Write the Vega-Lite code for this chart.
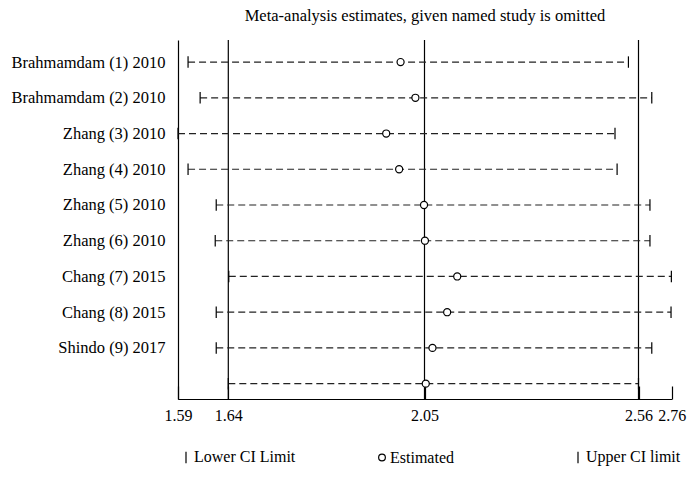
{
  "$schema": "https://vega.github.io/schema/vega-lite/v6.json",
  "autosize": {"type": "none"},
  "width": 494,
  "height": 359,
  "padding": {"left": 178, "top": 40, "right": 26, "bottom": 79},
  "background": "white",
  "title": {
    "text": "Meta-analysis estimates, given named study is omitted",
    "font": "Liberation Serif",
    "fontSize": 16.5,
    "fontWeight": "normal",
    "color": "black",
    "anchor": "middle",
    "frame": "group",
    "offset": 15
  },
  "config": {
    "view": {"stroke": null},
    "font": "Liberation Serif",
    "axisX": {
      "domainColor": "black", "domainWidth": 1.2,
      "tickColor": "black", "tickWidth": 1.2, "tickSize": -13,
      "labelFont": "Liberation Serif", "labelFontSize": 16, "labelColor": "black",
      "labelPadding": 21, "grid": false, "labelOverlap": false, "labelFlush": false
    },
    "axisY": {
      "domainColor": "black", "domainWidth": 1.2, "ticks": false,
      "labelFont": "Liberation Serif", "labelFontSize": 16.5, "labelColor": "black",
      "labelPadding": 13, "grid": false
    }
  },
  "datasets": {
    "studies": [
      {"study": "Brahmamdam (1) 2010", "lower": 1.600, "est": 2.000, "upper": 2.536},
      {"study": "Brahmamdam (2) 2010", "lower": 1.612, "est": 2.031, "upper": 2.640},
      {"study": "Zhang (3) 2010", "lower": 1.590, "est": 1.970, "upper": 2.504},
      {"study": "Zhang (4) 2010", "lower": 1.600, "est": 1.997, "upper": 2.509},
      {"study": "Zhang (5) 2010", "lower": 1.628, "est": 2.049, "upper": 2.629},
      {"study": "Zhang (6) 2010", "lower": 1.627, "est": 2.051, "upper": 2.629},
      {"study": "Chang (7) 2015", "lower": 1.641, "est": 2.128, "upper": 2.758},
      {"study": "Chang (8) 2015", "lower": 1.628, "est": 2.104, "upper": 2.756},
      {"study": "Shindo (9) 2017", "lower": 1.628, "est": 2.069, "upper": 2.640},
      {"study": "Overall", "lower": 1.640, "est": 2.053, "upper": 2.560}
    ],
    "refs": [{"v": 1.64}, {"v": 2.05}, {"v": 2.56}]
  },
  "layer": [
    {
      "data": {"name": "refs"},
      "mark": {"type": "rule", "stroke": "black", "strokeWidth": 1.2},
      "encoding": {
        "x": {
          "field": "v", "type": "quantitative",
          "scale": {"type": "linear", "domain": [1.59, 1.64, 2.05, 2.56, 2.76], "range": [0, 50.3, 246.5, 460.5, 493.7], "nice": false, "zero": false},
          "axis": {"values": [1.59, 1.64, 2.05, 2.56, 2.76], "format": ".2f", "title": null}
        }
      }
    },
    {
      "data": {"name": "studies"},
      "mark": {"type": "rule", "stroke": "#222", "strokeWidth": 1.2, "strokeDash": [7, 4]},
      "encoding": {
        "x": {"field": "lower", "type": "quantitative", "axis": {"title": null}},
        "x2": {"field": "upper"},
        "y": {
          "field": "study", "type": "nominal",
          "scale": {"type": "point", "domain": ["Brahmamdam (1) 2010", "Brahmamdam (2) 2010", "Zhang (3) 2010", "Zhang (4) 2010", "Zhang (5) 2010", "Zhang (6) 2010", "Chang (7) 2015", "Chang (8) 2015", "Shindo (9) 2017", "Overall"], "padding": 0.523, "align": 0.59},
          "axis": {"title": null, "labelExpr": "datum.value == 'Overall' ? '' : datum.value"}
        }
      }
    },
    {
      "data": {"name": "studies"},
      "mark": {"type": "point", "filled": false, "stroke": "black", "strokeWidth": 1.2, "size": 45, "opacity": 1},
      "encoding": {
        "x": {"field": "lower", "type": "quantitative", "axis": {"title": null}},
        "y": {"field": "study", "type": "nominal", "axis": {"title": null}},
        "shape": {
          "datum": "Lower CI Limit",
          "scale": {"domain": ["Lower CI Limit", "Estimated", "Upper CI limit"], "range": ["M0,-1.7L0,1.7", "circle", "M0,-1.7L0,1.7"]},
          "legend": {
            "orient": "none", "legendX": 0, "legendY": 409, "direction": "horizontal",
            "columns": 3, "gridAlign": "all", "columnPadding": 78, "title": null,
            "symbolSize": 45, "symbolStrokeColor": "black", "symbolFillColor": "white", "symbolStrokeWidth": 1.2,
            "labelFont": "Liberation Serif", "labelFontSize": 16, "labelColor": "black", "labelOffset": 0
          }
        }
      }
    },
    {
      "data": {"name": "studies"},
      "mark": {"type": "point", "filled": false, "stroke": "black", "strokeWidth": 1.2, "size": 45, "opacity": 1},
      "encoding": {
        "x": {"field": "upper", "type": "quantitative", "axis": {"title": null}},
        "y": {"field": "study", "type": "nominal", "axis": {"title": null}},
        "shape": {"datum": "Upper CI limit"}
      }
    },
    {
      "data": {"name": "studies"},
      "mark": {"type": "point", "filled": false, "fill": "white", "stroke": "black", "strokeWidth": 1.2, "size": 50, "opacity": 1},
      "encoding": {
        "x": {"field": "est", "type": "quantitative", "axis": {"title": null}},
        "y": {"field": "study", "type": "nominal", "axis": {"title": null}},
        "shape": {"datum": "Estimated"}
      }
    }
  ]
}
